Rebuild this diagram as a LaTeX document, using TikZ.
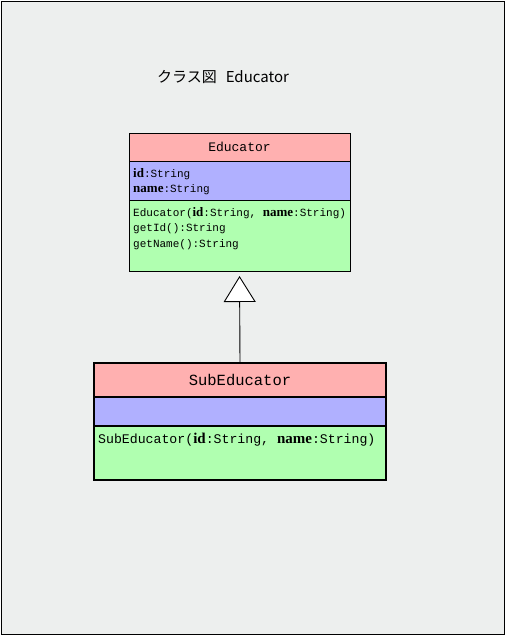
\documentclass[tikz,border=0pt]{standalone}
\usepackage{fontspec}
\setmainfont{Liberation Serif}
\setmonofont{Liberation Mono}
\newfontfamily\jpfont{Noto Sans CJK JP}
\usetikzlibrary{positioning,arrows.meta}
\definecolor{bggray}{RGB}{237,239,238}
\definecolor{headred}{RGB}{255,176,176}
\definecolor{attrblue}{RGB}{176,176,255}
\definecolor{methgreen}{RGB}{176,255,176}
\newcommand\pname[2]{{\rmfamily\bfseries\fontsize{#1}{1}\selectfont #2}}
\tikzset{
  part/.style={draw, anchor=north west, inner sep=0pt, outer sep=0pt},
  member/.style={anchor=north west, inner sep=0pt, align=left,
    font=\ttfamily\fontsize{11}{15.5}\selectfont},
  bigmember/.style={anchor=north west, inner sep=0pt, align=left,
    font=\ttfamily\fontsize{13.2}{16}\selectfont},
}
\begin{document}
\begin{tikzpicture}[x=1pt,y=-1pt]
  \useasboundingbox (0,0) rectangle (507,637);
  \draw[fill=bggray, line width=1.5pt] (1.5,1.5) rectangle (504.5,634.5);
  \node (title) at (223,77) {\jpfont\fontsize{15}{17}\selectfont クラス図\hspace{0.6em}Educator};

  % Educator
  \begin{scope}[line width=0.9pt]
    \node[part, fill=headred, minimum width=221pt, minimum height=28pt,
      font=\ttfamily\fontsize{13}{15}\selectfont] (eduhead) at (129,133) {Educator};
    \node[part, fill=attrblue, minimum width=221pt, minimum height=39pt]
      (eduattr) at (eduhead.south west) {};
    \node[part, fill=methgreen, minimum width=221pt, minimum height=71pt]
      (edumeth) at (eduattr.south west) {};
  \end{scope}
  \node[member, below right=7pt and 4pt of eduattr.north west] (eduattrs)
    {\pname{13}{id}:String\\\pname{13}{name}:String};
  \node[member, below right=7pt and 4pt of edumeth.north west] (edumeths)
    {Educator(\pname{13}{id}:String,\ \pname{13}{name}:String)\\getId():String\\getName():String};

  % SubEducator
  \begin{scope}[line width=1.8pt]
    \node[part, fill=headred, minimum width=292pt, minimum height=34pt,
      font=\ttfamily\fontsize{15.5}{17}\selectfont] (subhead) at (94,363) {SubEducator};
    \node[part, fill=attrblue, minimum width=292pt, minimum height=29pt]
      (subattr) at (subhead.south west) {};
    \node[part, fill=methgreen, minimum width=292pt, minimum height=54pt]
      (submeth) at (subattr.south west) {};
  \end{scope}
  \node[bigmember, below right=7pt and 4pt of submeth.north west] (submeths)
    {SubEducator(\pname{15}{id}:String,\ \pname{15}{name}:String)};

  \draw[line width=0.9pt, -{Triangle[length=26pt, width=32pt, fill=white]},
    shorten >=5pt] (subhead.north) -- (edumeth.south);
\end{tikzpicture}
\end{document}
